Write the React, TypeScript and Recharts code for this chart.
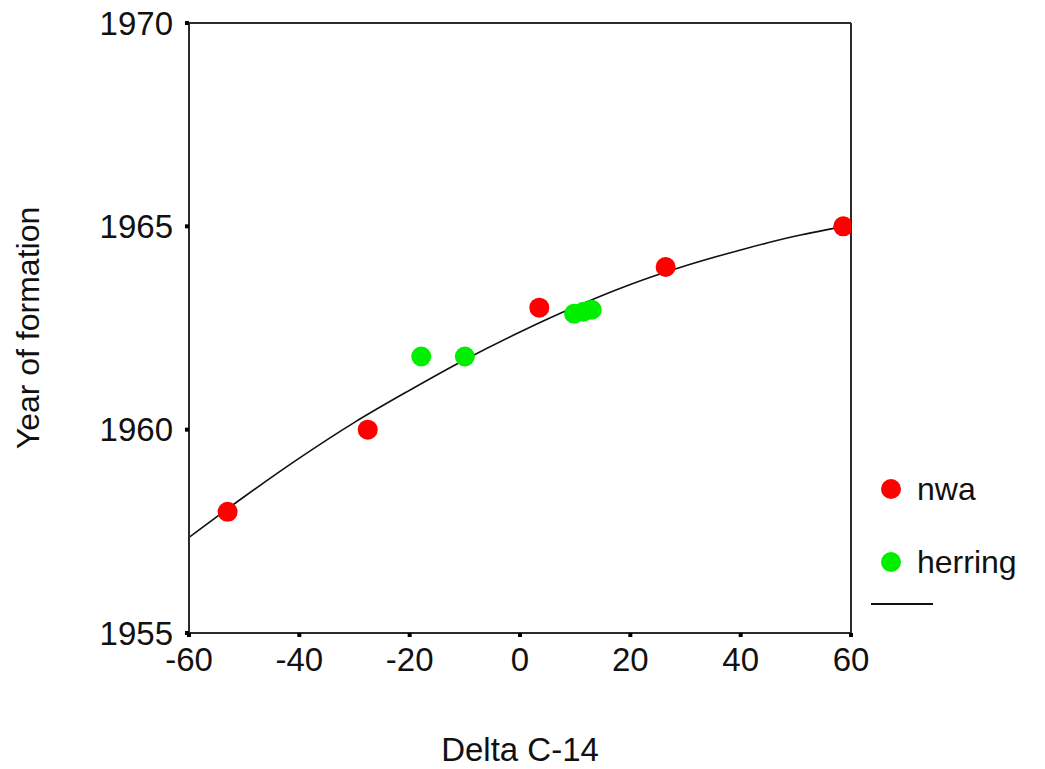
import React from "react";
import {
  ComposedChart,
  Scatter,
  Line,
  XAxis,
  YAxis,
  ReferenceLine,
} from "recharts";

// measured points
const nwaDelta = [-53, -27.6, 3.5, 26.4, 58.6];
const nwaYear = [1957.98, 1960.0, 1963.0, 1964.0, 1965.0];
const herringDelta = [-17.9, -10, 9.8, 11.5, 13.0];
const herringYear = [1961.8, 1961.8, 1962.85, 1962.9, 1962.95];

// fitted curve
const fitDelta = [-60, -50, -40, -30, -20, -10, 0, 10, 20, 30, 40, 50, 60];
const fitYear = [
  1957.35, 1958.35, 1959.3, 1960.18, 1960.97, 1961.72, 1962.4, 1963.02,
  1963.57, 1964.03, 1964.42, 1964.76, 1965.03,
];

const xTicks = [-60, -40, -20, 0, 20, 40, 60];
const yTicks = [1955, 1960, 1965, 1970];

const nwa = nwaDelta.map((x, i) => ({ x, y: nwaYear[i] }));
const herring = herringDelta.map((x, i) => ({ x, y: herringYear[i] }));
const fit = fitDelta.map((x, i) => ({ x, y: fitYear[i] }));

const FONT = "'Liberation Sans', Arial, sans-serif";
const AXIS = "#2a2a2a";

const Dot = (color: string) => (props: any) =>
  <circle cx={props.cx} cy={props.cy} r={10} fill={color} />;

// legend drawn beside the plot, like the SPSS output
const LegendBox = () => (
  <svg
    width={180}
    height={140}
    style={{ position: "absolute", left: 871, top: 472, fontFamily: FONT }}
  >
    <circle cx={20} cy={17} r={10} fill="#ff0000" />
    <text x={46} y={28} fontSize={32} fill="#111">
      nwa
    </text>
    <circle cx={20} cy={90} r={10} fill="#00ee00" />
    <text x={46} y={101} fontSize={32} fill="#111">
      herring
    </text>
    <line x1={0} y1={132} x2={62} y2={132} stroke="#111" strokeWidth={2} />
  </svg>
);

export default function App() {
  return (
    <div
      style={{
        position: "absolute",
        left: 0,
        top: 0,
        width: 1045,
        height: 769,
        background: "#fff",
      }}
    >
      <ComposedChart
        width={1045}
        height={769}
        margin={{ top: 23, right: 194, left: 0, bottom: 0 }}
      >
        <XAxis
          type="number"
          dataKey="x"
          domain={[-60, 60]}
          ticks={xTicks}
          allowDataOverflow
          height={136}
          stroke={AXIS}
          strokeWidth={2}
          tickSize={4}
          tickMargin={11}
          tickLine={{ stroke: "#000", strokeWidth: 4 }}
          tick={{ fontSize: 33, fill: "#111", fontFamily: FONT }}
          label={{
            value: "Delta C-14",
            position: "insideBottom",
            offset: 8,
            fontSize: 33,
            fill: "#111",
            fontFamily: FONT,
          }}
        />
        <YAxis
          type="number"
          dataKey="y"
          domain={[1955, 1970]}
          ticks={yTicks}
          allowDataOverflow
          width={189}
          stroke={AXIS}
          strokeWidth={2}
          tickSize={4}
          tickMargin={12}
          tickLine={{ stroke: "#000", strokeWidth: 4 }}
          tick={{ fontSize: 33, fill: "#111", fontFamily: FONT }}
          label={{
            value: "Year of formation",
            angle: -90,
            position: "insideLeft",
            offset: 28,
            fontSize: 32,
            fill: "#111",
            fontFamily: FONT,
            style: { textAnchor: "middle" },
          }}
        />
        <ReferenceLine y={1970} stroke={AXIS} strokeWidth={2} />
        <ReferenceLine x={60} stroke={AXIS} strokeWidth={2} />
        <Line
          data={fit}
          dataKey="y"
          type="monotone"
          stroke="#111"
          strokeWidth={1.6}
          dot={false}
          activeDot={false}
          isAnimationActive={false}
          legendType="none"
        />
        <Scatter
          name="nwa"
          data={nwa}
          fill="#ff0000"
          shape={Dot("#ff0000")}
          isAnimationActive={false}
        />
        <Scatter
          name="herring"
          data={herring}
          fill="#00ee00"
          shape={Dot("#00ee00")}
          isAnimationActive={false}
        />
      </ComposedChart>
      <LegendBox />
    </div>
  );
}
